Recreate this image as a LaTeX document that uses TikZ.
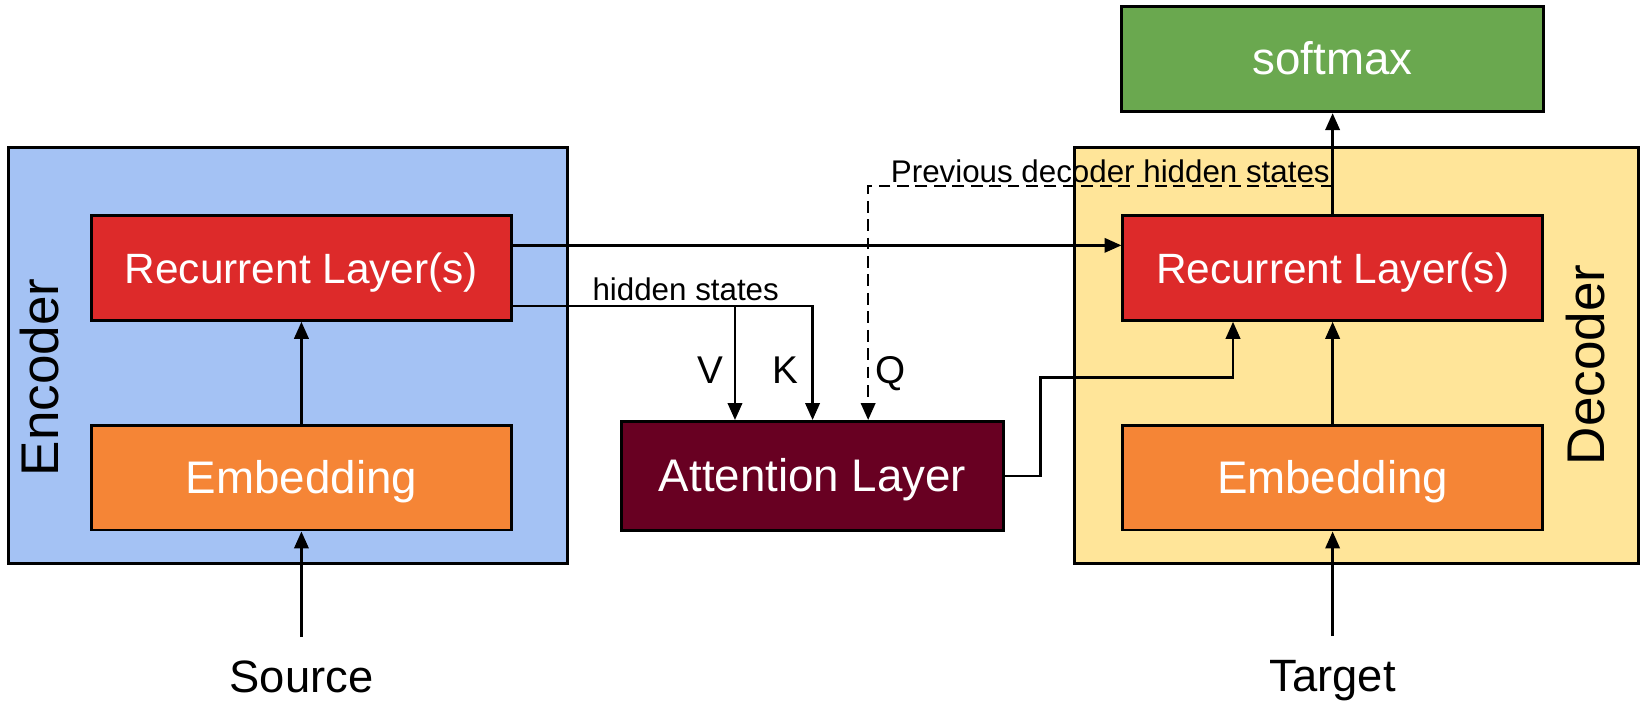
\documentclass[tikz,border=0pt]{standalone}
\usepackage{fontspec}
\setmainfont{Liberation Sans}
\usetikzlibrary{arrows.meta}
\definecolor{encblue}{HTML}{A4C2F4}
\definecolor{decyellow}{HTML}{FFE599}
\definecolor{recred}{HTML}{DD2A2A}
\definecolor{emborange}{HTML}{F58536}
\definecolor{smgreen}{HTML}{6AA84F}
\definecolor{attred}{HTML}{680022}
\begin{document}
\begin{tikzpicture}[
	stage/.style={draw=black,line width=0.8pt,minimum height=3.96cm},
	block/.style={draw=black,line width=0.8pt,text=white,minimum width=4cm,minimum height=1cm,inner sep=0pt,
		text height=0.84em,text depth=0pt,font=\fontsize{12.4}{14}\selectfont},
	sidelabel/.style={rotate=90,inner sep=0pt,text height=0.716em,text depth=0pt,font=\fontsize{14.4}{16}\selectfont},
	tag/.style={inner sep=0pt,text height=0.716em,text depth=0pt,font=\fontsize{8.5}{10}\selectfont},
	qkv/.style={inner sep=0pt,text height=0.716em,text depth=0pt,font=\fontsize{10.5}{12}\selectfont},
	io/.style={inner xsep=0pt,inner ysep=2.7mm,text height=0.716em,text depth=0pt,font=\fontsize{12.3}{14}\selectfont},
	arr/.style={line width=0.68pt,-{Triangle[length=4.6pt,width=3.9pt]}}]
\useasboundingbox (0,0) rectangle (15.68,-6.77);
\node[stage,fill=encblue,minimum width=5.33cm] (enc) at (2.745,-3.39) {};
\node[stage,fill=decyellow,minimum width=5.38cm] (dec) at (12.94,-3.39) {};
\node[block,fill=recred,font=\fontsize{11.5}{14}\selectfont] (encrec) at (2.875,-2.555) {Recurrent Layer(s)};
\node[block,fill=emborange] (encemb) at (2.875,-4.555) {Embedding};
\node[block,fill=recred,font=\fontsize{11.5}{14}\selectfont] (decrec) at (12.71,-2.555) {Recurrent Layer(s)};
\node[block,fill=emborange] (decemb) at (12.71,-4.555) {Embedding};
\node[block,fill=smgreen,minimum width=4.03cm] (softmax) at (12.71,-0.565) {softmax};
\node[block,fill=attred,minimum width=3.64cm,minimum height=1.04cm] (att) at (7.75,-4.54) {Attention Layer};
\node[sidelabel] (enclabel) at (0.43,-3.60) {Encoder};
\node[sidelabel] (declabel) at (15.18,-3.48) {Decoder};
\node[io] (src) at (2.875,-6.48) {Source};
\node[io] (tgt) at (12.71,-6.47) {Target};
\node[tag] (hstxt) at (6.54,-2.74) {hidden states};
\node[tag] (prevtxt) at (10.59,-1.615) {Previous decoder hidden states};
\node[qkv] (vtxt) at (6.78,-3.53) {V};
\node[qkv] (ktxt) at (7.49,-3.53) {K};
\node[qkv] (qtxt) at (8.49,-3.53) {Q};
\coordinate (hs) at ([yshift=-3.65mm]encrec.east);
\coordinate (vin) at ([xshift=-7.4mm]att.north);
\coordinate (qin) at ([xshift=5.3mm]att.north);
\coordinate (prev) at ([yshift=2.65mm]decrec.north);
\coordinate (rin) at ([xshift=-9.5mm]decrec.south);
\draw[arr] (src.north) -- (encemb.south);
\draw[arr] (encemb.north) -- (encrec.south);
\draw[arr] (tgt.north) -- (decemb.south);
\draw[arr] (decemb.north) -- (decrec.south);
\draw[arr] (decrec.north) -- (softmax.south);
\draw[arr] ([yshift=2.15mm]encrec.east) -- ([yshift=2.15mm]decrec.west);
\draw[arr] (hs) -| (att.north);
\draw[arr] (vin |- hs) -- (vin);
\draw[arr,dash pattern=on 3.2pt off 1.8pt] (prev) -| (qin);
\draw[arr] (att.east) -- ++(0.34,0) |- ([yshift=-5.3mm]rin) -- (rin);
\end{tikzpicture}
\end{document}
